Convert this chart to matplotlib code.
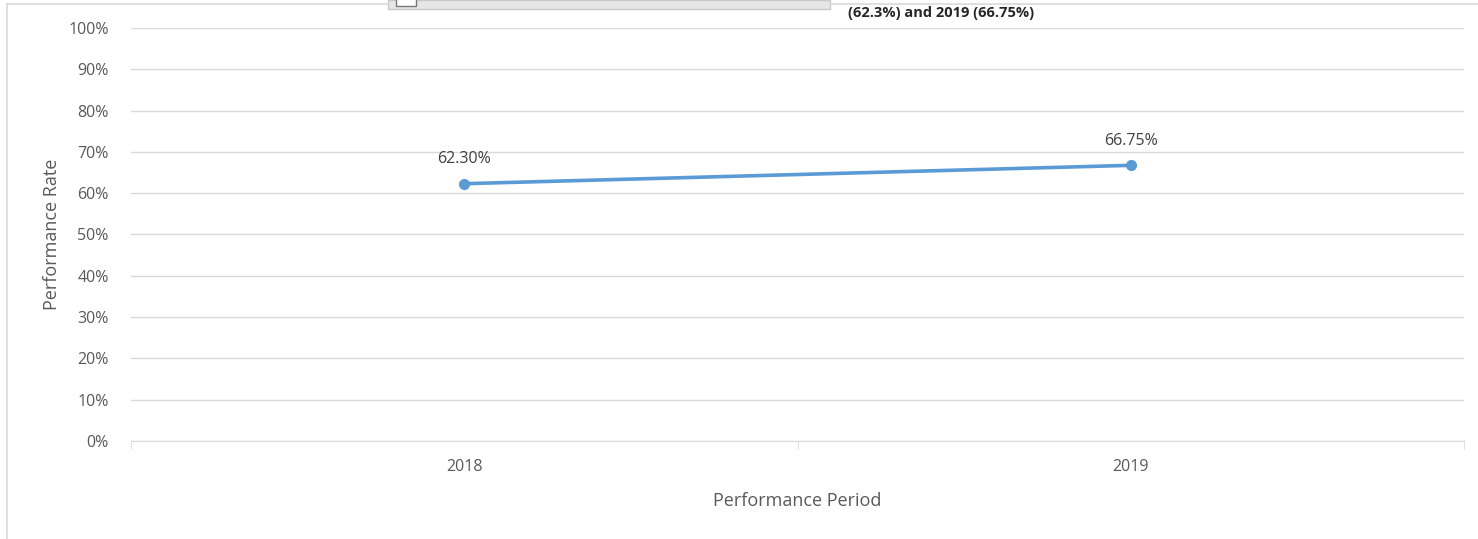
import matplotlib
matplotlib.use('Agg')
import matplotlib.pyplot as plt
from matplotlib.lines import Line2D
from matplotlib.patches import Rectangle
from matplotlib.ticker import FuncFormatter, MultipleLocator

# 数据
periods = ['2018', '2019']
rates = [0.6230, 0.6675]
rate_labels = ['62.30%', '66.75%']

plt.rcParams['font.family'] = ['Open Sans', 'DejaVu Sans']

W, H = 1478, 539
fig = plt.figure(figsize=(W / 100, H / 100), dpi=100)
ax = fig.add_axes([131 / W, 1 - 441 / H, (1464 - 131) / W, (441 - 28) / H])

grey_txt = '#595959'
grid_col = '#d9d9d9'
line_col = '#5b9bd5'

x = list(range(len(periods)))
ax.plot(x, rates, color=line_col, linewidth=2.6, marker='o', markersize=7,
        solid_capstyle='round', zorder=3)
for xi, yi, lab in zip(x, rates, rate_labels):
    ax.annotate(lab, (xi, yi), xytext=(0, 12), textcoords='offset points',
                ha='center', va='bottom', fontsize=11.5, color='#404040')

ax.set_xlim(-0.5, len(periods) - 0.5)
ax.set_ylim(0, 1)
ax.yaxis.set_major_locator(MultipleLocator(0.1))
ax.yaxis.set_major_formatter(FuncFormatter(lambda v, p: f'{v * 100:.0f}%'))
ax.set_xticks(x)
ax.set_xticklabels(periods)
ax.set_xticks([-0.5, 0.5, 1.5], minor=True)

ax.grid(axis='y', color=grid_col, linewidth=1)
ax.set_axisbelow(True)
for side in ['top', 'right', 'left']:
    ax.spines[side].set_visible(False)
ax.spines['bottom'].set_color(grid_col)
ax.tick_params(axis='y', length=0, pad=16, labelsize=11.5, labelcolor=grey_txt)
ax.tick_params(axis='x', which='major', length=0, pad=13, labelsize=11.5, labelcolor=grey_txt)
ax.tick_params(axis='x', which='minor', length=6, color=grid_col, direction='out')

ax.set_xlabel('Performance Period', fontsize=13, color=grey_txt, labelpad=12)
ax.set_ylabel('Performance Rate', fontsize=13, color=grey_txt, labelpad=5)

# 截图边框和顶部残留元素
fig.add_artist(Line2D([7 / W, 7 / W], [0, 1 - 4 / H], color='#d9d9d9', linewidth=1.2))
fig.add_artist(Line2D([7 / W, 388 / W], [1 - 4 / H, 1 - 4 / H], color='#d9d9d9', linewidth=1.2))
fig.add_artist(Line2D([830 / W, 1], [1 - 4 / H, 1 - 4 / H], color='#d9d9d9', linewidth=1.2))
fig.add_artist(Rectangle((388 / W, 1 - 9 / H), (830 - 388) / W, 9 / H,
                         facecolor='#e6e6e6', edgecolor='#c8c8c8', linewidth=1))
fig.add_artist(Rectangle((396 / W, 1 - 6 / H), 20 / W, 8 / H,
                         facecolor='white', edgecolor='#777777', linewidth=1))
fig.text(848 / W, 1 - 13 / H, '(62.3%) and 2019 (66.75%)', fontsize=10.5,
         fontweight='bold', color='#262626', ha='left', va='center')

plt.savefig('out.png', dpi=100)
plt.close()
